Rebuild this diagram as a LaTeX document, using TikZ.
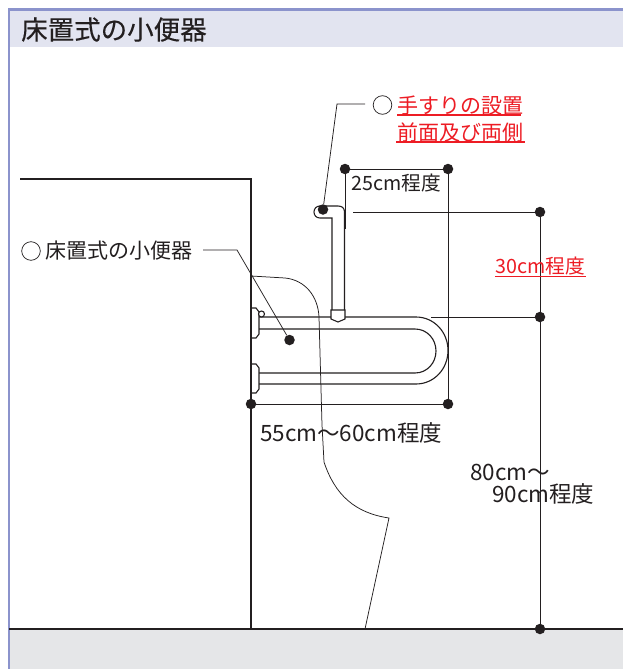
\documentclass[tikz,border=0pt]{standalone}
\usepackage{fontspec}
\setmainfont{Noto Sans CJK JP}
\newfontfamily\titlefont[FakeBold=0.25]{Noto Sans CJK JP}
\definecolor{ink}{HTML}{231F20}
\definecolor{redtxt}{HTML}{ED1C24}
\definecolor{framecol}{HTML}{8B93CC}
\definecolor{headcol}{HTML}{E2E4F0}
\definecolor{floorcol}{HTML}{E5E6E8}
\newcommand{\fs}[1]{\fontsize{#1}{#1}\selectfont}
\tikzset{
  dot/.style={circle,fill=ink,inner sep=0pt,minimum size=10.5pt},
  lbl/.style={inner sep=0pt,anchor=west,text=ink,font=\fs{21}},
  redlbl/.style={lbl,text=redtxt},
  dim/.style={draw=ink,line width=0.9pt},
  rail/.style={draw=ink,line width=1.1pt},
  thin line/.style={draw=ink,line width=0.75pt},
  wall/.style={draw=ink,line width=1.5pt},
  uline/.style={draw=redtxt,line width=1.8pt}
}
\begin{document}
\begin{tikzpicture}[x=1pt,y=-1pt]
\useasboundingbox (0,0) rectangle (623,669);
\fill[white] (0,0) rectangle (623,669);
% header and floor
\fill[headcol] (9,10) rectangle (623,47);
\fill[floorcol] (9,629) rectangle (623,669);
\draw[framecol,line width=2.4pt] (8.7,669) -- (8.7,9.7) -- (623,9.7);
\node[lbl,font=\fs{26.5}\titlefont] (title) at (21,29.5) {床置式の小便器};
% wall and floor
\draw[wall] (20,179) -- (251,179) -- (251,629);
\draw[wall] (9,629) -- (623,629);
% urinal outline
\draw[thin line] (251,276) -- (285,278) .. controls (305,280) and (318,296) .. (319,317)
  -- (322,425) -- (324,462) .. controls (335,495) and (355,513) .. (389,518)
  -- (365,629);
% grab rail (horizontal)
\draw[rail] (259,317) -- (416,317) .. controls (434,317) and (448,332) .. (448,350.5)
  .. controls (448,369) and (434,384) .. (416,384) -- (259,384);
\draw[rail] (259,329) -- (415,329) .. controls (427,329) and (436,339) .. (436,351)
  .. controls (436,363) and (427,373) .. (415,373) -- (259,373);
\draw[rail] (251,308) -- (256,308) -- (259,312) -- (259,334) -- (256,338) -- (251,338);
\draw[rail] (251,364) -- (256,364) -- (259,368) -- (259,389) -- (256,393) -- (251,393);
\draw[rail,fill=white] (261.5,314) circle[radius=3];
% grab rail (vertical)
\draw[rail] (332,310) -- (332,218) -- (320,218) .. controls (316.5,218) and (314,215.5) .. (314,212)
  .. controls (314,208.5) and (316.5,206) .. (320,206) -- (338,206)
  .. controls (342,206) and (344.5,208) .. (344.5,212) -- (344.5,310);
\draw[rail,fill=white] (331,310) -- (345,310) -- (345,319) -- (338,322) -- (331,319) -- cycle;
% dimension dots
\node[dot] (t1) at (345,169) {};
\node[dot] (t2) at (448,169) {};
\node[dot] (b1) at (251,404) {};
\node[dot] (b2) at (448,404) {};
\node[dot] (r1) at (540,212) {};
\node[dot] (r2) at (540,317) {};
\node[dot] (r3) at (540,629) {};
\node[dot] (lead1) at (323,209.5) {};
\node[dot] (lead2) at (289.5,340) {};
\coordinate (a1) at (353,212);
\coordinate (a2) at (431,317);
\coordinate (a3) at (345,229);
\coordinate (l1a) at (365,104);
\coordinate (l1b) at (337,104);
\coordinate (l2a) at (203,250);
\coordinate (l2b) at (237,250);
\draw[dim] (t1) -- (t2);
\draw[dim] (t2) -- (b2);
\draw[dim] (t1) -- (a3);
\draw[dim] (b1) -- (b2);
\draw[dim] (a1) -- (r1);
\draw[dim] (a2) -- (r2);
\draw[dim] (r1) -- (r2) -- (r3);
\draw[thin line] (l1a) -- (l1b) -- (lead1);
\draw[thin line] (l2a) -- (l2b) -- (lead2);
% labels
\draw[draw=ink,line width=0.7pt] (382.5,105) circle[radius=9.3];
\draw[draw=ink,line width=0.7pt] (31,251) circle[radius=9.3];
\node[redlbl] (hand1) at (397,105.5) {手すりの設置};
\node[redlbl] (hand2) at (397,132.5) {前面及び両側};
\draw[uline] (397,115) -- (521,115);
\draw[uline] (396,142) -- (525,142);
\node[lbl] (uri) at (45,251) {床置式の小便器};
\node[lbl,font=\fs{19.7}] (d25) at (351,183.5) {25cm程度};
\node[redlbl,font=\fs{19.7}] (d30) at (495,266.5) {30cm程度};
\draw[draw=redtxt,line width=1pt] (495,276) -- (586,276);
\node[lbl,font=\fs{22.5}] (d55) at (260,433) {55cm\char"FF5E 60cm程度};
\node[lbl,font=\fs{22.5}] (d80a) at (470,472) {80cm\char"FF5E};
\node[lbl,font=\fs{22.5}] (d80b) at (492,494) {90cm程度};
\end{tikzpicture}
\end{document}
